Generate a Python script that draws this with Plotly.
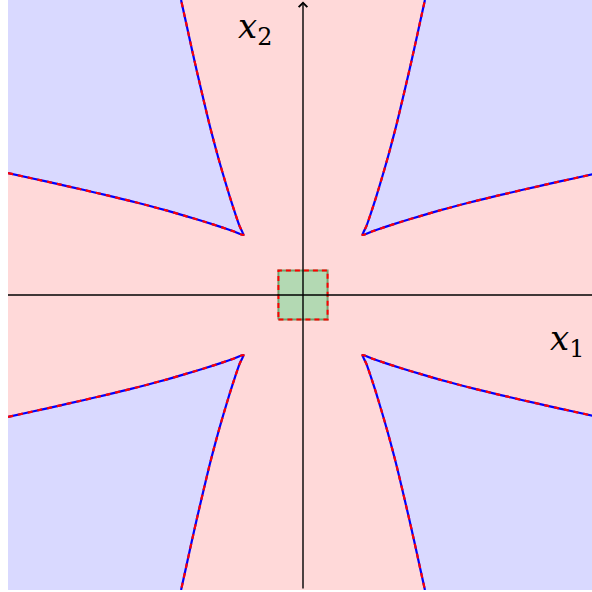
"""Cusped regions around a square, drawn with Plotly."""

import plotly.graph_objects as go

# one arm of the boundary curve (first quadrant, horizontal-ish arm); the
# other arms are its mirror images and its swap across the diagonal
ARM_X = [1.21, 1.40, 1.66, 2.00, 2.40, 2.78, 3.15, 3.50, 4.00, 4.47, 5.00, 5.50, 6.00]
ARM_Y = [1.22, 1.29, 1.38, 1.49, 1.61, 1.72, 1.82, 1.91, 2.03, 2.14, 2.26, 2.37, 2.48]

QUADRANTS = [(1, 1), (-1, 1), (-1, -1), (1, -1)]

SQUARE_X = [-0.5, 0.5, 0.5, -0.5, -0.5]
SQUARE_Y = [-0.5, -0.5, 0.5, 0.5, -0.5]

X_RANGE = [-6.0, 5.878]
Y_RANGE = [-6.0, 6.0]

RED_BG = "rgb(255,217,217)"
BLUE_BG = "rgb(217,217,255)"
GREEN_FILL = "rgb(179,217,179)"

fig = go.Figure()

for sx, sy in QUADRANTS:
    # path: horizontal arm from the edge in to the cusp, then vertical arm out
    path_x = [sx * v for v in ARM_X[::-1]] + [sx * v for v in ARM_Y[1:]]
    path_y = [sy * v for v in ARM_Y[::-1]] + [sy * v for v in ARM_X[1:]]
    fig.add_trace(
        go.Scatter(
            x=path_x + [sx * 6.0, path_x[0]],
            y=path_y + [sy * 6.0, path_y[0]],
            mode="lines",
            fill="toself",
            fillcolor=BLUE_BG,
            line={"width": 0},
            hoverinfo="skip",
        )
    )
    fig.add_trace(
        go.Scatter(
            x=path_x, y=path_y, mode="lines",
            line={"color": "blue", "width": 2.2, "shape": "spline", "smoothing": 0.6},
            hoverinfo="skip",
        )
    )
    fig.add_trace(
        go.Scatter(
            x=path_x,
            y=path_y,
            mode="lines",
            line={"color": "red", "width": 2.2, "dash": "5px,5px", "shape": "spline", "smoothing": 0.6},
            hoverinfo="skip",
        )
    )

fig.add_trace(
    go.Scatter(
        x=SQUARE_X,
        y=SQUARE_Y,
        mode="lines",
        fill="toself",
        fillcolor=GREEN_FILL,
        line={"color": "rgb(115,160,110)", "width": 2},
        hoverinfo="skip",
    )
)
fig.add_trace(
    go.Scatter(
        x=SQUARE_X,
        y=SQUARE_Y,
        mode="lines",
        line={"color": "red", "width": 2, "dash": "5px,4px"},
        hoverinfo="skip",
    )
)

# axes through the origin
fig.add_shape(type="line", x0=-6, x1=6.5, y0=0, y1=0, line={"color": "black", "width": 1.4})
fig.add_annotation(
    x=0, y=5.97, ax=0, ay=-6, xref="x", yref="y", axref="x", ayref="y",
    showarrow=True, arrowhead=4, arrowsize=1.2, arrowwidth=1.4, arrowcolor="black", text="",
)

label_font = {"family": "DejaVu Serif", "size": 34, "color": "black"}
fig.add_annotation(x=-0.98, y=5.43, text="<i>x</i><sub>2</sub>", showarrow=False, font=label_font)
fig.add_annotation(x=5.37, y=-0.92, text="<i>x</i><sub>1</sub>", showarrow=False, font=label_font)

axis_style = {"showgrid": False, "zeroline": False, "showticklabels": False, "ticks": "", "showline": False}
fig.update_xaxes(range=X_RANGE, **axis_style)
fig.update_yaxes(range=Y_RANGE, **axis_style)
fig.update_layout(
    width=592,
    height=592,
    margin={"l": 8, "r": 0, "t": 0, "b": 2},
    plot_bgcolor=RED_BG,
    paper_bgcolor="white",
    showlegend=False,
)

fig.write_html(
    "out.html",
    config={"displayModeBar": False},
    post_script="document.body.style.margin='0';document.body.style.overflow='hidden';",
)
